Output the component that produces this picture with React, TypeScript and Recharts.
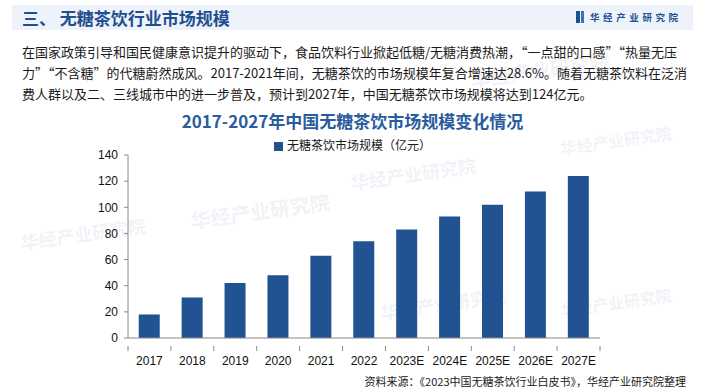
import React from 'react';
import { BarChart, Bar, XAxis, YAxis } from 'recharts';

const years = ['2017', '2018', '2019', '2020', '2021', '2022', '2023E', '2024E', '2025E', '2026E', '2027E'];
const marketSize = [18, 31, 42, 48, 63, 74, 83, 93, 102, 112, 124];
const yTicks = [0, 20, 40, 60, 80, 100, 120, 140];
const seriesName = '无糖茶饮市场规模（亿元）';

const textLines = [
  '在国家政策引导和国民健康意识提升的驱动下，食品饮料行业掀起低糖/无糖消费热潮，“一点甜的口感”“热量无压',
  '力”“不含糖”的代糖蔚然成风。2017-2021年间，无糖茶饮的市场规模年复合增速达28.6%。随着无糖茶饮料在泛消',
  '费人群以及二、三线城市中的进一步普及，预计到2027年，中国无糖茶饮市场规模将达到124亿元。',
];

const data = years.map((year, i) => ({ year, value: marketSize[i] }));

const W = 705;
const H = 392;
const Y_AXIS_W = 40;
const X_AXIS_H = 30;
const M = { top: 155, right: 105, bottom: 392 - 338 - X_AXIS_H, left: 88 };
const STEP = (W - M.left - Y_AXIS_W - M.right) / years.length;

const CJK = '"Noto Sans CJK SC", "Noto Sans", sans-serif';
const LAT = '"Liberation Sans", Arial, sans-serif';

const XTick = (props: any) => {
  const { x, y, payload, index } = props;
  const last = index === years.length - 1;
  return (
    <g>
      <line x1={x - STEP / 2} x2={x - STEP / 2} y1={y} y2={y + 5} stroke="#888" />
      {last && <line x1={x + STEP / 2} x2={x + STEP / 2} y1={y} y2={y + 5} stroke="#888" />}
      <text x={x} y={y + 19} textAnchor="middle" fontSize={12} fill="#111" fontFamily={LAT}>
        {payload.value}
      </text>
    </g>
  );
};

// faint watermarks
const marks = [
  { x: 190, y: 196, s: 20 },
  { x: 350, y: 160, s: 18 },
  { x: 380, y: 290, s: 18 },
  { x: 20, y: 220, s: 18 },
  { x: 560, y: 128, s: 16 },
  { x: 560, y: 290, s: 16 },
  { x: 470, y: 55, s: 20 },
];

export default function App() {
  return (
    <div style={{ position: 'absolute', left: 0, top: 0, width: W, height: H, background: '#fff', overflow: 'hidden', fontFamily: CJK }}>
      {marks.map((m, i) => (
        <div key={i} style={{ position: 'absolute', left: m.x, top: m.y, fontSize: m.s, fontWeight: 700, color: 'rgba(190,200,220,0.22)', transform: 'rotate(-8deg)', whiteSpace: 'nowrap' }}>
          华经产业研究院
        </div>
      ))}
      <div style={{ position: 'absolute', left: 12, top: 5, width: 681, height: 25, background: '#eef3fb' }} />
      <div style={{ position: 'absolute', left: 22, top: 5, height: 25, lineHeight: '25px', fontSize: 17, fontWeight: 700, color: '#1f4f8f', whiteSpace: 'nowrap' }}>
        三、 无糖茶饮行业市场规模
      </div>
      <div style={{ position: 'absolute', left: 576, top: 11, width: 4, height: 12, background: '#1f4f8f' }} />
      <div style={{ position: 'absolute', left: 581, top: 11, width: 3, height: 12, background: '#3a74b8' }} />
      <div style={{ position: 'absolute', left: 590, top: 5, height: 25, lineHeight: '25px', fontSize: 9.5, fontWeight: 700, color: '#1f4f8f', letterSpacing: 3.6, whiteSpace: 'nowrap' }}>
        华经产业研究院
      </div>
      {textLines.map((t, i) => (
        <div key={i} style={{ position: 'absolute', left: 22, top: 42 + i * 21, fontSize: 13, lineHeight: '20px', color: '#1a1a1a', whiteSpace: 'nowrap' }}>
          {t}
        </div>
      ))}
      <div style={{ position: 'absolute', left: 0, width: W, top: 108, textAlign: 'center', fontSize: 17, fontWeight: 700, color: '#2a5c9e', lineHeight: '26px' }}>
        2017-2027年中国无糖茶饮市场规模变化情况
      </div>
      <div style={{ position: 'absolute', left: 0, width: W, top: 136, textAlign: 'center', fontSize: 12, lineHeight: '18px', color: '#1a1a1a', whiteSpace: 'nowrap' }}>
        <span style={{ display: 'inline-block', width: 9, height: 9, background: '#215392', marginRight: 4, verticalAlign: '-1px' }} />
        {seriesName}
      </div>
      <div style={{ position: 'absolute', left: 0, top: 0 }}>
        <BarChart width={W} height={H} data={data} margin={M} barCategoryGap="25%">
          <XAxis dataKey="year" height={X_AXIS_H} stroke="#888" tickLine={false} tick={<XTick />} interval={0} />
          <YAxis
            width={Y_AXIS_W}
            domain={[0, 140]}
            ticks={yTicks}
            stroke="#888"
            tickSize={4}
            tickMargin={6}
            tick={{ fontSize: 12, fill: '#111', fontFamily: LAT }}
          />
          <Bar dataKey="value" name={seriesName} fill="#215392" isAnimationActive={false} />
        </BarChart>
      </div>
      <div style={{ position: 'absolute', right: 19, top: 372, fontSize: 11, lineHeight: '18px', color: '#1a1a1a', whiteSpace: 'nowrap' }}>
        资料来源：《2023中国无糖茶饮行业白皮书》，华经产业研究院整理
      </div>
    </div>
  );
}
